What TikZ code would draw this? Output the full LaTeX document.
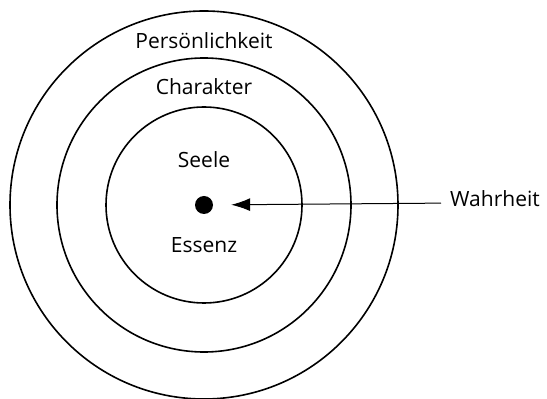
\documentclass[tikz,border=0pt]{standalone}
\usepackage{fontspec}
\setmainfont{Open Sans}
\usetikzlibrary{arrows.meta, positioning}
\tikzset{
  ring/.style={draw, circle, line width=1.6pt, inner sep=0pt},
  lbl/.style={font=\fontsize{21}{25}\selectfont, inner sep=0pt, anchor=base},
}
\begin{document}
\begin{tikzpicture}[x=1pt, y=1pt]
% Schichten um den Kern
\useasboundingbox (0,0) rectangle (547,399);
\coordinate (c) at (204,194);
\node[ring, minimum size=388pt] (outer) at (c) {};
\node[ring, minimum size=294pt] (middle) at (c) {};
\node[ring, minimum size=196pt] (inner) at (c) {};
\node[circle, fill=black, minimum size=18pt, inner sep=0pt] (kern) at (c) {};

\node[lbl] (pers) at (204,350) {Persönlichkeit};
\node[lbl] (char) at (204,304) {Charakter};
\node[lbl] (seele) at (204,231) {Seele};
\node[lbl] (essenz) at (204,146) {Essenz};
\node[lbl, anchor=base west] (wahr) at (450,192) {Wahrheit};

\draw[line width=1pt, -{Latex[length=19pt, width=13pt]}, shorten >=18pt]
    ([xshift=-9pt, yshift=-4pt]wahr.west) -- (kern);
\end{tikzpicture}
\end{document}
